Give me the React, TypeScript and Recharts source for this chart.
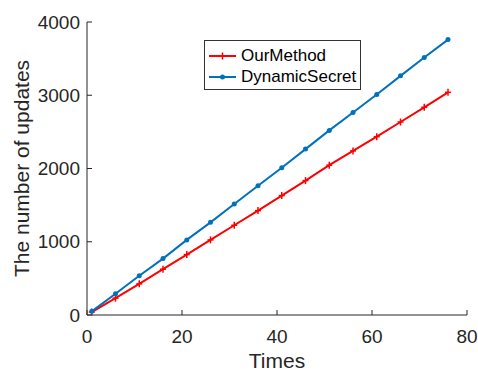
import { LineChart, Line, XAxis, YAxis, Legend } from 'recharts';

const times = [1, 6, 11, 16, 21, 26, 31, 36, 41, 46, 51, 56, 61, 66, 71, 76];
const ourMethod = [40, 230, 425, 625, 825, 1025, 1225, 1425, 1630, 1835, 2045, 2240, 2435, 2635, 2835, 3040];
const dynamicSecret = [50, 290, 535, 770, 1025, 1265, 1515, 1765, 2010, 2265, 2520, 2765, 3010, 3265, 3515, 3760];
const xTicks = [0, 20, 40, 60, 80];
const yTicks = [0, 1000, 2000, 3000, 4000];

const SERIES = [
  { key: 'ourMethod', label: 'OurMethod', color: '#ff0000' },
  { key: 'dynamicSecret', label: 'DynamicSecret', color: '#0072bd' },
];

const FONT = 'Liberation Sans, Arial, Helvetica, sans-serif';
const AXIS = '#262626';

const data = times.map((t, i) => ({
  t,
  ourMethod: ourMethod[i],
  dynamicSecret: dynamicSecret[i],
}));

function PlusDot(props: any) {
  const { cx, cy, stroke } = props;
  if (cx == null || cy == null) return null;
  return (
    <g>
      <line x1={cx - 3} y1={cy} x2={cx + 3} y2={cy} stroke={stroke} strokeWidth={1.5} />
      <line x1={cx} y1={cy - 3.5} x2={cx} y2={cy + 3.5} stroke={stroke} strokeWidth={1.5} />
    </g>
  );
}

function RoundDot(props: any) {
  const { cx, cy, stroke } = props;
  if (cx == null || cy == null) return null;
  return <circle cx={cx} cy={cy} r={2.5} fill={stroke} stroke="none" />;
}

function LegendBox() {
  return (
    <div style={{ boxSizing: 'border-box', width: 157, height: 50, border: '1px solid #333', background: '#fff', paddingTop: 4 }}>
      {SERIES.map((s, i) => (
        <div key={s.key} style={{ display: 'flex', alignItems: 'center', height: 21.5, fontFamily: FONT, fontSize: 17, color: '#000' }}>
          <svg width={33} height={10} style={{ marginLeft: 3 }}>
            <line x1={1} y1={5} x2={28} y2={5} stroke={s.color} strokeWidth={2} />
            {i === 0 ? (
              <g>
                <line x1={11.5} y1={5} x2={17.5} y2={5} stroke={s.color} strokeWidth={1.5} />
                <line x1={14.5} y1={1.5} x2={14.5} y2={8.5} stroke={s.color} strokeWidth={1.5} />
              </g>
            ) : (
              <circle cx={14.5} cy={5} r={2.5} fill={s.color} />
            )}
          </svg>
          <span>{s.label}</span>
        </div>
      ))}
    </div>
  );
}

export default function App() {
  return (
    <div style={{ position: 'absolute', left: 0, top: 0, background: '#fff' }}>
      <LineChart width={478} height={371} data={data} margin={{ top: 22, right: 11, bottom: 0, left: 0 }}>
        <XAxis dataKey="t" type="number" domain={[0, 80]} ticks={xTicks} height={56}
          stroke={AXIS} tickSize={-5} tickMargin={20}
          tick={{ fontSize: 19, fill: AXIS, fontFamily: FONT }}
          label={{ value: 'Times', position: 'insideBottom', offset: 3, style: { fontSize: 21, fill: AXIS, fontFamily: FONT } }} />
        <XAxis xAxisId="top" dataKey="t" type="number" domain={[0, 80]} ticks={xTicks} orientation="top" height={0}
          stroke={AXIS} tickSize={-5} tickFormatter={() => ''} />
        <YAxis type="number" domain={[0, 4000]} ticks={yTicks} width={87}
          stroke={AXIS} tickSize={-5} tickMargin={12}
          tick={{ fontSize: 19, fill: AXIS, fontFamily: FONT }}
          label={{ value: 'The number of updates', angle: -90, position: 'insideLeft', offset: 22,
            style: { textAnchor: 'middle', fontSize: 21, fill: AXIS, fontFamily: FONT } }} />
        <YAxis yAxisId="right" type="number" domain={[0, 4000]} ticks={yTicks} orientation="right" width={0}
          stroke={AXIS} tickSize={-5} tickFormatter={() => ''} />
        <Legend layout="horizontal" verticalAlign="middle" align="center" content={LegendBox}
          wrapperStyle={{ position: 'absolute', left: 204, top: 40, width: 157, height: 50 }} />
        <Line dataKey="ourMethod" name="OurMethod" stroke={SERIES[0].color} strokeWidth={2} dot={PlusDot} isAnimationActive={false} />
        <Line dataKey="dynamicSecret" name="DynamicSecret" stroke={SERIES[1].color} strokeWidth={2} dot={RoundDot} isAnimationActive={false} />
      </LineChart>
    </div>
  );
}
